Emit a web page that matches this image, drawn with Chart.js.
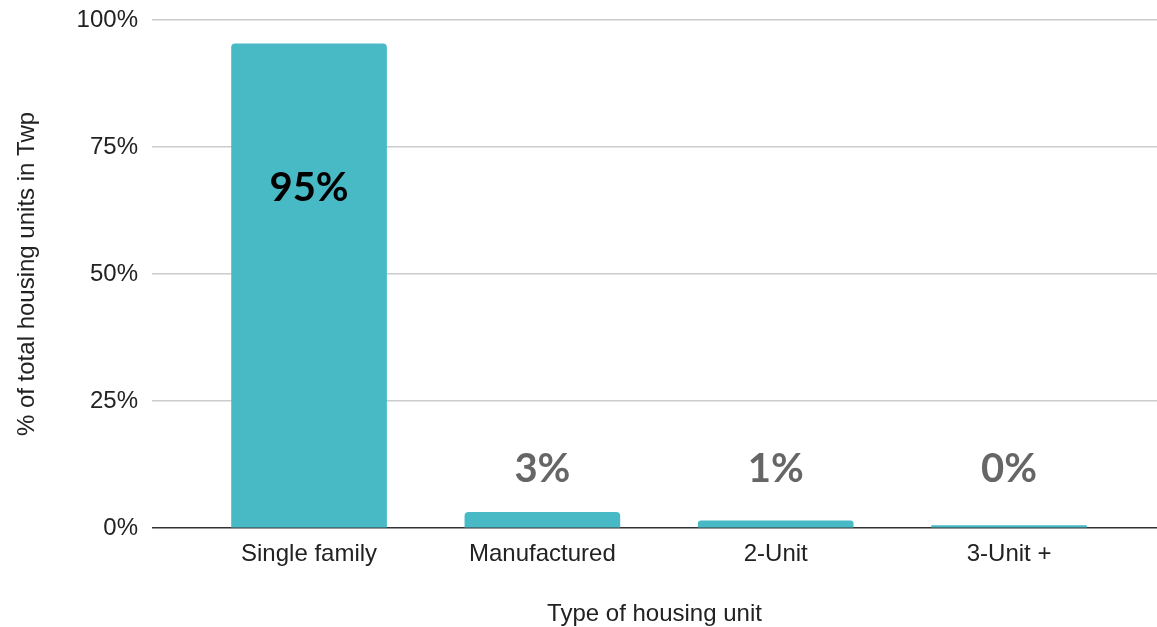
<!DOCTYPE html>
<html lang="en">
<head>
<meta charset="UTF-8" />
<title>Housing units by type</title>
<style>
  * {margin:0; padding:0; box-sizing:border-box;}
  html, body {width:1157px; height:627px; background:#fff; overflow:hidden;}
  #wrap {position:relative; width:1157px; height:627px;}
</style>
</head>
<body>
<div id="wrap"><canvas id="housingChart"></canvas></div>

<script src="https://cdn.jsdelivr.net/npm/chart.js"></script>
<script>
  // housing unit types and their share of all units in the township (%)
  const unitTypes = ['Single family', 'Manufactured', '2-Unit', '3-Unit +'];
  const shareOfUnits = [95.3, 3.1, 1.4, 0.49];
  const yTicks = [0, 25, 50, 75, 100];

  const barColor = '#47bac5';
  const axisFont = {family: 'Liberation Sans', size: 24};

  // value labels: big bar gets its label inside, small ones a grey label above
  const valueLabels = {
    id: 'valueLabels',
    afterDatasetsDraw(chart) {
      const ctx = chart.ctx;
      const yScale = chart.scales.y;
      const bars = chart.getDatasetMeta(0).data;
      ctx.save();
      ctx.textAlign = 'center';
      ctx.textBaseline = 'middle';
      ctx.font = 'bold 40px Lato';
      bars.forEach((bar, i) => {
        const v = shareOfUnits[i];
        const txt = Math.round(v) + '%';
        if (v > 50) {
          ctx.fillStyle = '#000';
          ctx.fillText(txt, bar.x, bar.y + 144);
        } else {
          ctx.fillStyle = '#666';
          ctx.fillText(txt, bar.x, yScale.getPixelForValue(11.5));
        }
      });
      ctx.restore();
    }
  };

  const chart = new Chart(document.getElementById('housingChart').getContext('2d'), {
    type: 'bar',
    data: {
      datasets: [{
        data: unitTypes.map((t, i) => ({x: i, y: shareOfUnits[i]})),
        backgroundColor: barColor,
        borderRadius: {topLeft: 4, topRight: 4},
        borderSkipped: 'bottom',
        barThickness: 155
      }]
    },
    options: {
      responsive: true,
      maintainAspectRatio: false,
      animation: false,
      layout: {padding: {top: 20, right: 0, left: 0, bottom: 0}},
      plugins: {legend: {display: false}, tooltip: {enabled: false}},
      scales: {
        x: {
          type: 'linear',
          offset: false,
          min: -0.673,
          max: 3.634,
          afterBuildTicks(axis) {
            axis.ticks = unitTypes.map((t, i) => ({value: i}));
          },
          afterFit(axis) { axis.height = 99; },
          grid: {display: false, drawTicks: false},
          border: {display: false},
          ticks: {
            color: '#222',
            font: axisFont,
            padding: 12,
            maxRotation: 0,
            autoSkip: false,
            callback: (v) => unitTypes[v]
          },
          title: {
            display: true,
            text: 'Type of housing unit',
            color: '#222',
            font: axisFont,
            padding: {top: 0, bottom: -2}
          }
        },
        y: {
          min: 0,
          max: 100,
          afterBuildTicks(axis) {
            axis.ticks = yTicks.map(v => ({value: v}));
          },
          afterFit(axis) {
            axis.width = 152;
            axis.paddingTop = 0;
          },
          grid: {
            color: (c) => c.tick && c.tick.value === 0 ? '#333' : '#cccccc',
            lineWidth: 1.5,
            drawTicks: false
          },
          border: {display: false},
          ticks: {
            color: '#222',
            font: axisFont,
            padding: 14,
            callback: (v) => v + '%'
          },
          title: {
            display: true,
            text: '% of total housing units in Twp',
            color: '#222',
            font: axisFont,
            padding: {top: 13, bottom: 0}
          }
        }
      }
    },
    plugins: [valueLabels]
  });
</script>
</body>
</html>
